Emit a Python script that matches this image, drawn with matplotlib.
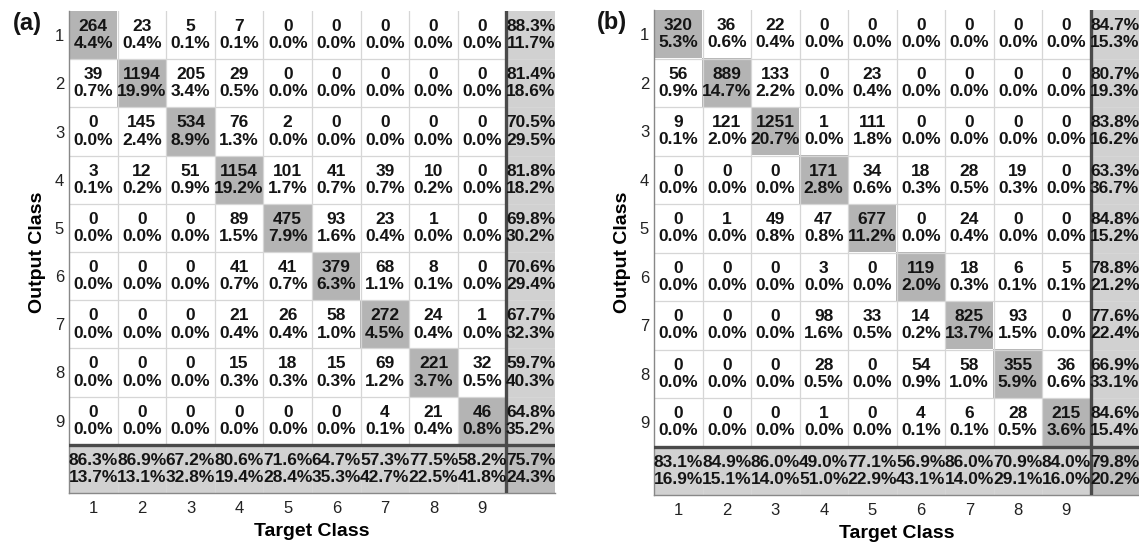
import matplotlib
import numpy as np

matplotlib.use("Agg")
import matplotlib.pyplot as plt
from matplotlib.colors import to_rgb

plt.rcParams["font.family"] = ["Liberation Sans", "DejaVu Sans"]

classes = ["1", "2", "3", "4", "5", "6", "7", "8", "9"]

# rows = output class, columns = target class
counts_a = [
    [264, 23, 5, 7, 0, 0, 0, 0, 0],
    [39, 1194, 205, 29, 0, 0, 0, 0, 0],
    [0, 145, 534, 76, 2, 0, 0, 0, 0],
    [3, 12, 51, 1154, 101, 41, 39, 10, 0],
    [0, 0, 0, 89, 475, 93, 23, 1, 0],
    [0, 0, 0, 41, 41, 379, 68, 8, 0],
    [0, 0, 0, 21, 26, 58, 272, 24, 1],
    [0, 0, 0, 15, 18, 15, 69, 221, 32],
    [0, 0, 0, 0, 0, 0, 4, 21, 46],
]
counts_b = [
    [320, 36, 22, 0, 0, 0, 0, 0, 0],
    [56, 889, 133, 0, 23, 0, 0, 0, 0],
    [9, 121, 1251, 1, 111, 0, 0, 0, 0],
    [0, 0, 0, 171, 34, 18, 28, 19, 0],
    [0, 1, 49, 47, 677, 0, 24, 0, 0],
    [0, 0, 0, 3, 0, 119, 18, 6, 5],
    [0, 0, 0, 98, 33, 14, 825, 93, 0],
    [0, 0, 0, 28, 0, 54, 58, 355, 36],
    [0, 0, 0, 1, 0, 4, 6, 28, 215],
]

W, H, DPI = 1139, 544, 100
C_DIAG, C_OFF, C_SUM, C_ALL = "#b4b4b4", "#ffffff", "#d1d1d1", "#bcbcbc"
TXT = "#141414"


def confmat(ax, cm, tag):
    cm = np.asarray(cm, float)
    n = cm.shape[0]
    total = cm.sum()
    img = np.ones((n + 1, n + 1, 3))
    for i in range(n + 1):
        for j in range(n + 1):
            if i == n and j == n:
                c = C_ALL
            elif i == n or j == n:
                c = C_SUM
            elif i == j:
                c = C_DIAG
            else:
                c = C_OFF
            img[i, j] = to_rgb(c)
    ax.imshow(img, extent=(0, n + 1, n + 1, 0), interpolation="nearest", aspect="auto")

    # thin cell borders
    for k in range(1, n + 1):
        ax.axvline(k, color="#d6d6d6", lw=0.9, zorder=2)
        ax.axhline(k, color="#d6d6d6", lw=0.9, zorder=2)
    ax.axvline(n, color="#4a4a4a", lw=2.4, zorder=3)
    ax.axhline(n, color="#4a4a4a", lw=2.4, zorder=3)

    kw = dict(ha="center", va="center", fontsize=12.5, fontweight="bold", color=TXT,
              linespacing=1.2, zorder=4)
    for i in range(n):
        for j in range(n):
            v = cm[i, j]
            ax.text(j + 0.5, i + 0.5, f"{int(v)}\n{100 * v / total:.1f}%", **kw)
    rows = cm.sum(axis=1)
    cols = cm.sum(axis=0)
    diag = np.diag(cm)
    for i in range(n):
        p = 100 * diag[i] / rows[i]
        ax.text(n + 0.5, i + 0.5, f"{p:.1f}%\n{100 - p:.1f}%", **kw)
    for j in range(n):
        p = 100 * diag[j] / cols[j]
        ax.text(j + 0.5, n + 0.5, f"{p:.1f}%\n{100 - p:.1f}%", **kw)
    p = 100 * diag.sum() / total
    ax.text(n + 0.5, n + 0.5, f"{p:.1f}%\n{100 - p:.1f}%", **kw)

    ax.set_xlim(0, n + 1)
    ax.set_ylim(n + 1, 0)
    ax.set_xticks(np.arange(n) + 0.5)
    ax.set_xticklabels(classes)
    ax.set_yticks(np.arange(n) + 0.5)
    ax.set_yticklabels(classes)
    ax.tick_params(length=0, labelsize=12, colors="#222222")
    ax.tick_params(axis="y", pad=3.5)
    ax.tick_params(axis="x", pad=6)
    ax.set_xlabel("Target Class", fontsize=14, fontweight="bold", labelpad=5)
    ax.set_ylabel("Output Class", fontsize=14, fontweight="bold", labelpad=6)
    for side in ("top", "right"):
        ax.spines[side].set_visible(False)
    for side in ("left", "bottom"):
        ax.spines[side].set_color("#888888")
        ax.spines[side].set_linewidth(1.0)
    ax.text(-0.056, 0.998, tag, transform=ax.transAxes, ha="right", va="top",
            fontsize=17, fontweight="bold", color=TXT)


fig = plt.figure(figsize=(W / DPI, H / DPI), dpi=DPI)
ax_a = fig.add_axes([69 / W, 51 / H, 486 / W, 482 / H])
ax_b = fig.add_axes([654 / W, 49 / H, 485 / W, 485 / H])
confmat(ax_a, counts_a, "(a)")
confmat(ax_b, counts_b, "(b)")
fig.savefig("out.png", dpi=DPI, facecolor="white")
